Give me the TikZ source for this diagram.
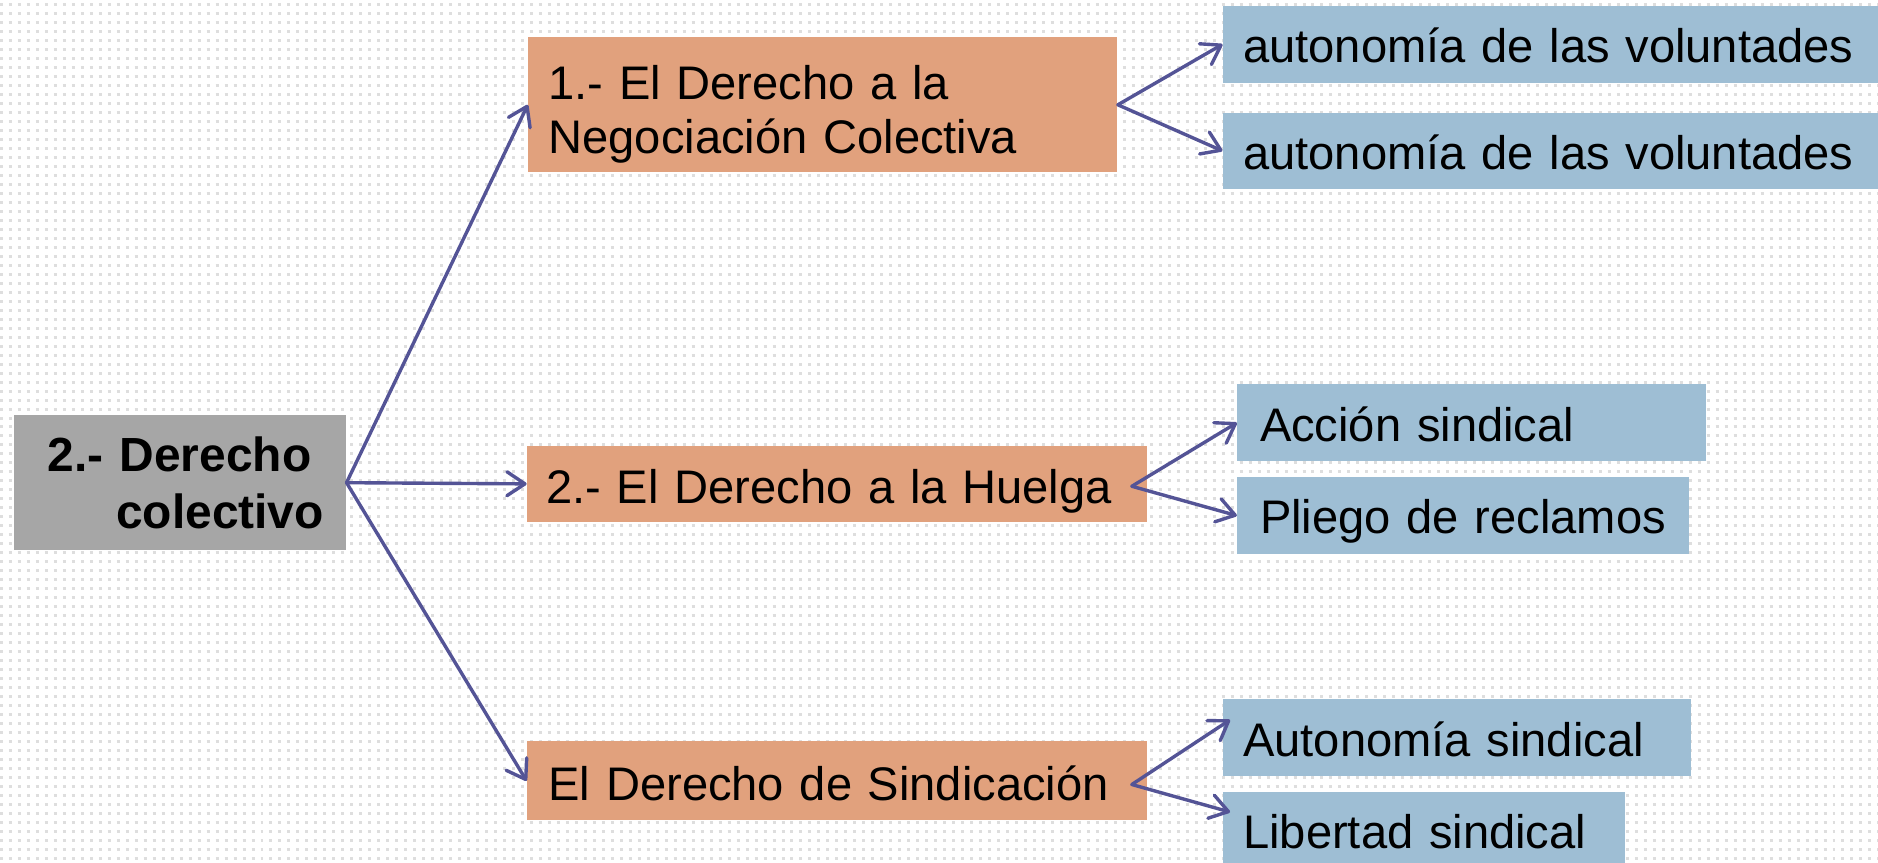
\documentclass[tikz,border=0pt]{standalone}
\usepackage{fontspec}
\setmainfont{Liberation Sans}
\usetikzlibrary{arrows.meta,calc}
\definecolor{orangebox}{RGB}{225,161,125}
\definecolor{bluebox}{RGB}{158,190,212}
\definecolor{graybox}{RGB}{166,166,166}
\definecolor{arrowcol}{RGB}{84,84,150}
\definecolor{dotcol}{RGB}{222,222,222}
\begin{document}
\begin{tikzpicture}[x=0.6pt,y=-0.6pt,
  boxbase/.style={rectangle, inner ysep=0pt, align=left, text=black,
    font=\fontsize{23.6}{27}\selectfont},
  orangenode/.style={boxbase, fill=orangebox},
  bluenode/.style={boxbase, fill=bluebox, minimum height=38.4pt, text height=18.4pt, text depth=0pt},
  graynode/.style={boxbase, fill=graybox, font=\fontsize{24}{28.3}\selectfont\bfseries},
  conn/.style={draw=arrowcol, line width=1.7pt, line cap=round,
    -{Straight Barb[length=9pt,width=12pt,round]}}
]
\useasboundingbox (0,0) rectangle (1568,720);
\clip (0,0) rectangle (1568,720);
\fill[white] (0,0) rectangle (1568,720);
% dotted background
\foreach \yy in {4,11.5,...,720}{
  \draw[dotcol, line width=1.5pt, dash pattern=on 1.5pt off 3pt] (0,\yy) -- (1568,\yy);
}
% nodes
\node[graynode, minimum width=166.2pt, minimum height=67.8pt, text width=132.6pt, inner xsep=16.8pt]
  (g) at (150.5,403) {\mbox{2.- Derecho}\\\mbox{\hspace*{34.2pt}colectivo}};
\node[orangenode, minimum width=295.2pt, minimum height=67.8pt, text width=274.8pt, inner xsep=10.2pt]
  (o1) at (687,87.5) {\rule{0pt}{26.5pt}\mbox{1.- El Derecho a la}\\\mbox{Negociación Colectiva}};
\node[orangenode, minimum width=310.8pt, minimum height=38.4pt, text width=291.6pt, inner xsep=9.6pt,
  text height=19.2pt, text depth=0pt]
  (o2) at (699,404) {\mbox{2.- El Derecho a la Huelga}};
\node[orangenode, minimum width=310.8pt, minimum height=39.6pt, text width=289.2pt, inner xsep=10.8pt,
  text height=19.2pt, text depth=0pt]
  (o3) at (699,652) {\mbox{El Derecho de Sindicación}};
\node[bluenode, minimum width=328.2pt, text width=307.8pt, inner xsep=10.2pt]
  (b1) at (1294.5,37) {\mbox{autonomía de las voluntades}};
\node[bluenode, minimum width=328.2pt, text width=307.8pt, inner xsep=10.2pt]
  (b2) at (1294.5,126) {\mbox{autonomía de las voluntades}};
\node[bluenode, minimum width=234.6pt, text width=211.8pt, inner xsep=11.4pt]
  (b3) at (1228.5,353) {\mbox{Acción sindical}};
\node[bluenode, minimum width=226.2pt, text width=203.4pt, inner xsep=11.4pt]
  (b4) at (1221.5,430.5) {\mbox{Pliego de reclamos}};
\node[bluenode, minimum width=234.6pt, text width=214.2pt, inner xsep=10.2pt]
  (b5) at (1216.5,616) {\mbox{Autonomía sindical}};
\node[bluenode, minimum width=201.6pt, text width=181.2pt, inner xsep=10.2pt]
  (b6) at (1189,693) {\mbox{Libertad sindical}};
% connector coordinates
\coordinate (o2s) at (945,406);
\coordinate (o3s) at (945,655);
\coordinate (t5) at (1027,601);
\coordinate (t6) at (1027,678);
% connectors
\draw[conn] (g.east) -- (o1.west);
\draw[conn] (g.east) -- (o2.west);
\draw[conn] (g.east) -- (o3.west);
\draw[conn] (o1.east) -- (b1.west);
\draw[conn] (o1.east) -- (b2.west);
\draw[conn] (o2s) -- (b3.west);
\draw[conn] (o2s) -- (b4.west);
\draw[conn] (o3s) -- (t5);
\draw[conn] (o3s) -- (t6);
\end{tikzpicture}
\end{document}
